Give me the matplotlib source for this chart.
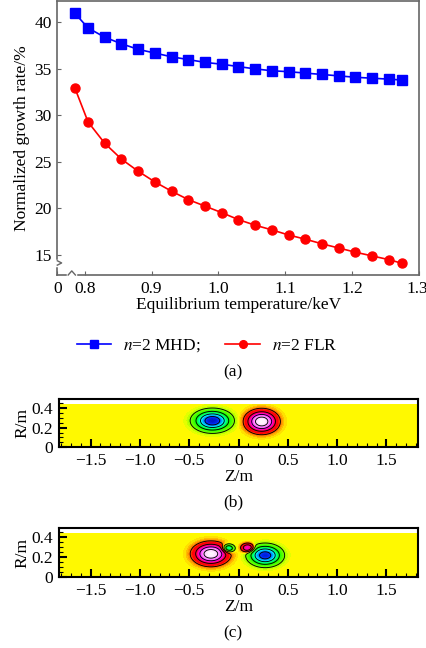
import numpy as np
import matplotlib
matplotlib.use('Agg')
import matplotlib.pyplot as plt
from matplotlib.colors import LinearSegmentedColormap
from matplotlib.ticker import MultipleLocator, FuncFormatter
from matplotlib.transforms import ScaledTranslation

plt.rcParams['font.family'] = 'Liberation Serif'
plt.rcParams['mathtext.fontset'] = 'stix'

# panel (a) data
temp_kev = [0.785, 0.805, 0.83, 0.855, 0.88, 0.905, 0.93, 0.955, 0.98, 1.005, 1.03,
            1.055, 1.08, 1.105, 1.13, 1.155, 1.18, 1.205, 1.23, 1.255, 1.275]
mhd_rate = [41.0, 39.4, 38.4, 37.7, 37.1, 36.7, 36.3, 36.0, 35.7, 35.5, 35.25,
            35.0, 34.8, 34.7, 34.55, 34.4, 34.25, 34.1, 34.0, 33.9, 33.8]
flr_rate = [33.0, 29.3, 27.0, 25.3, 24.0, 22.85, 21.85, 20.95, 20.25, 19.55, 18.8,
            18.2, 17.7, 17.15, 16.7, 16.2, 15.75, 15.3, 14.9, 14.5, 14.1]
x_ticks = [0.759, 0.8, 0.9, 1.0, 1.1, 1.2, 1.3]
x_ticklabels = ['0', '0.8', '0.9', '1.0', '1.1', '1.2', '1.3']
y_ticks = [15, 20, 25, 30, 35, 40]

# mode structure lobes: (Z centre, R centre, Z width, R width, amplitude)
lobes_b = [(-0.265, 0.27, 0.159, 0.091, -1.0),
           (0.235, 0.262, 0.134, 0.095, 1.0)]
lobes_c = [(-0.28, 0.235, 0.148, 0.092, 1.0),
           (-0.105, 0.29, 0.059, 0.039, -0.6),
           (0.095, 0.295, 0.059, 0.039, 0.6),
           (0.27, 0.22, 0.141, 0.088, -0.95)]
lobe_power = 1.2
z_range = (-1.82, 1.82)
r_top = 0.435

FS = 12.5
fig = plt.figure(figsize=(4.27, 6.48), dpi=100)

# ---- panel (a)
ax = fig.add_axes([0.1342, 0.5756, 0.8471, 0.4229])
ax.plot(temp_kev, mhd_rate, color='#0000ff', marker='s', ms=6.5, lw=1.2, label=r'$n$=2 MHD;')
ax.plot(temp_kev, flr_rate, color='#ff0000', marker='o', ms=6.5, lw=1.2, label=r'$n$=2 FLR')
ax.set_xlim(0.759, 1.3)
ax.set_ylim(12.85, 42.3)
ax.set_xticks(x_ticks)
ax.set_xticklabels(x_ticklabels)
ax.set_yticks(y_ticks)
ax.tick_params(direction='in', length=3, width=0.8, colors='#666666', labelcolor='black',
               labelsize=FS, pad=4)
last = ax.get_xticklabels()[-1]
last.set_transform(last.get_transform() + ScaledTranslation(-2 / 100, 0, fig.dpi_scale_trans))
for s in ax.spines.values():
    s.set_color('#666666')
    s.set_linewidth(1.2)
ax.set_xlabel('Equilibrium temperature/keV', fontsize=FS, labelpad=0)
ax.set_ylabel('Normalized growth rate/%', fontsize=FS, labelpad=3)

# axis break marks
gap = dict(transform=ax.transAxes, clip_on=False, zorder=5)
ax.plot([0, 0], [0.036, 0.052], color='white', lw=2.5, **gap)
ax.plot([0, 0.012, 0], [0.036, 0.044, 0.052], color='#666666', lw=1.0, **gap)
ax.plot([0.03, 0.05], [0, 0], color='white', lw=2.5, **gap)
ax.plot([0.03, 0.04, 0.05], [0, 0.015, 0], color='#666666', lw=1.0, **gap)

handles, labels = ax.get_legend_handles_labels()
fig.legend(handles, labels, loc='center', bbox_to_anchor=(0.485, 1 - 346 / 648), ncol=2,
           frameon=False, fontsize=FS, handlelength=2.0, handletextpad=0.7,
           columnspacing=1.4, markerscale=0.85)
fig.text(233 / 427, 1 - 372 / 648, '(a)', ha='center', va='center', fontsize=FS)

# ---- panels (b), (c)
cmap = LinearSegmentedColormap.from_list('tec', [
    (0.0, '#0010c0'), (0.075, '#0030ff'), (0.15, '#00a8ff'), (0.2, '#00ffff'),
    (0.275, '#00ff90'), (0.35, '#00ff00'), (0.45, '#70ff00'), (0.5, '#ffff00'),
    (0.53, '#ffa000'), (0.6, '#ff0000'), (0.7, '#ff0030'), (0.8, '#ff00ff'),
    (0.925, '#ffb0ff'), (1.0, '#ffffff')])
zz, rr = np.meshgrid(np.linspace(z_range[0], z_range[1], 600), np.linspace(0, r_top, 150))
levels = [-0.85, -0.6, -0.33, -0.1, 0.1, 0.33, 0.6, 0.85]
fmt = FuncFormatter(lambda v, p: '0' if abs(v) < 1e-9 else f'{v:.1f}'.replace('-', '\u2212'))


def mode_panel(rect, lobes, tag, tag_y):
    a = fig.add_axes(rect)
    f = np.zeros_like(zz)
    for z0, r0, wz, wr, amp in lobes:
        d2 = ((zz - z0) / wz) ** 2 + ((rr - r0) / wr) ** 2
        f += amp * np.exp(-d2 ** lobe_power)
    a.contourf(zz, rr, f, levels=np.linspace(-1.02, 1.02, 102), cmap=cmap)
    a.contour(zz, rr, f, levels=levels, colors='black', linewidths=0.65, linestyles='solid')
    a.set_xlim(*z_range)
    a.set_ylim(0, 0.49)
    a.xaxis.set_major_locator(MultipleLocator(0.5))
    a.xaxis.set_minor_locator(MultipleLocator(0.1))
    a.yaxis.set_major_locator(MultipleLocator(0.2))
    a.yaxis.set_minor_locator(MultipleLocator(0.05))
    a.xaxis.set_major_formatter(fmt)
    a.yaxis.set_major_formatter(fmt)
    a.tick_params(which='major', direction='in', length=6, width=1.5, labelsize=FS, pad=4)
    a.tick_params(which='minor', direction='in', length=3, width=0.8)
    for s in a.spines.values():
        s.set_linewidth(1.5)
    a.set_xlabel('Z/m', fontsize=FS, labelpad=0)
    a.set_ylabel('R/m', fontsize=FS, labelpad=1)
    fig.text(233 / 427, 1 - tag_y / 648, tag, ha='center', va='center', fontsize=FS)
    return a


mode_panel([0.1382, 0.3097, 0.8407, 0.0745], lobes_b, '(b)', 502)
mode_panel([0.1382, 0.1091, 0.8407, 0.0755], lobes_c, '(c)', 633)

fig.savefig('out.png', dpi=100)
